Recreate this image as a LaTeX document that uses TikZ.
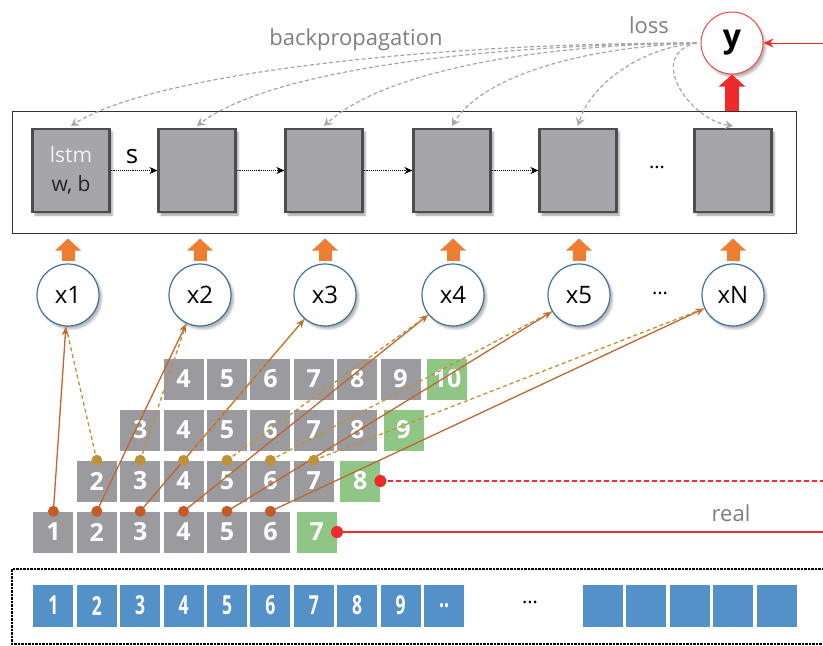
\documentclass[tikz,border=0pt]{standalone}
\usepackage{fontspec}
\setmainfont{Open Sans}
\usetikzlibrary{arrows.meta, shadows.blur}

\definecolor{boxgray}{HTML}{A6A5A9}
\definecolor{boxedge}{HTML}{4D4D4D}
\definecolor{framecol}{HTML}{3A3030}
\definecolor{cellgray}{HTML}{9B9B9F}
\definecolor{cellgreen}{HTML}{8FC585}
\definecolor{cellblue}{HTML}{5591C9}
\definecolor{feedorange}{HTML}{ED7D31}
\definecolor{linkbrown}{HTML}{C0662F}
\definecolor{dotbrown}{HTML}{C55A28}
\definecolor{linkgold}{HTML}{BF9236}
\definecolor{lossred}{HTML}{EE2A2A}
\definecolor{ringblue}{HTML}{41719C}
\definecolor{backgray}{HTML}{A6A6A6}
\definecolor{notegray}{HTML}{7F7F7F}

\tikzset{
  lstm/.style = {draw = boxedge, line width = 2.2pt, fill = boxgray,
    minimum width = 77pt, minimum height = 83pt, inner sep = 0pt,
    blur shadow = {shadow xshift = 2.5pt, shadow yshift = -3pt, shadow opacity = 40}},
  xin/.style = {circle, draw = ringblue, line width = 1.2pt, fill = white,
    minimum size = 62pt, inner sep = 0pt, font = \fontsize{24}{24}\selectfont,
    blur shadow = {shadow xshift = 2.5pt, shadow yshift = -3pt, shadow opacity = 30}},
  cell/.style = {fill = cellgray, minimum width = 40pt, minimum height = 41pt,
    inner sep = 0pt, text = white, font = \fontsize{25}{25}\selectfont\bfseries},
  newcell/.style = {cell, fill = cellgreen},
  seq/.style = {cell, fill = cellblue, minimum height = 42pt},
  feed/.style = {feedorange, line width = 13pt,
    -{Triangle[length = 12pt, width = 25pt]}},
  link/.style = {linkbrown, line width = 1.3pt,
    -{Stealth[length = 9pt, width = 7pt]}},
  lagged/.style = {linkgold, line width = 1.3pt, dash pattern = on 4pt off 3pt},
  backprop/.style = {backgray, line width = 1.2pt, dash pattern = on 4pt off 2.5pt,
    -{Stealth[length = 8pt, width = 9pt, inset = 3pt]}},
  carry/.style = {densely dotted, line width = .9pt,
    -{Stealth[length = 8pt, width = 7pt]}},
  note/.style = {text = notegray, font = \fontsize{22}{22}\selectfont}
}

\begin{document}
\begin{tikzpicture}[x = 1pt, y = -1pt]
  \useasboundingbox (0,0) rectangle (823,646);

  % lstm chain
  \node [draw = framecol, line width = 1pt, minimum width = 784pt,
    minimum height = 122pt, inner sep = 0pt] (frame) at (404,172) {};
  \node [lstm, align = center, font = \fontsize{21}{29}\selectfont] (l1) at (71,170.5)
    {\textcolor{white!95!black}{lstm}\\\textcolor{black!85}{w, b}};
  \node [lstm] (l2) at (197,170.5) {};
  \node [lstm] (l3) at (324,170.5) {};
  \node [lstm] (l4) at (452,170.5) {};
  \node [lstm] (l5) at (578,170.5) {};
  \node [lstm] (l6) at (733,170.5) {};
  \node [font = \fontsize{20}{20}\selectfont] (dotsl) at (657,167) {...};
  \foreach \k [evaluate = \k as \j using int(\k+1)] in {1,...,4}
    \draw [carry] (l\k) -- (l\j);
  \node [font = \fontsize{26}{26}\selectfont] (s) at (132,157) {s};

  % loss node and backpropagation
  \node [circle, draw = lossred!85, line width = 1pt, fill = white, minimum size = 62pt,
    inner sep = 0pt, font = \fontsize{32}{32}\selectfont\bfseries,
    blur shadow = {shadow xshift = 2.5pt, shadow yshift = -3pt, shadow opacity = 30}]
    (y) at (732,43) {y};
  \node [note] (loss) at (649,25) {loss};
  \node [note] (bp) at (356,40) {backpropagation};
  \coordinate (truth) at (823,43);
  \draw [lossred, line width = 1pt, -{Stealth[length = 10pt, width = 9pt]}] (truth) -- (y);
  \draw [lossred, line width = 14pt, -{Triangle[length = 12pt, width = 26pt]}]
    (y |- frame.north) -- (y.south);
  \coordinate (lossout) at ([xshift = -4pt]y.west);
  \draw [backprop] (lossout) .. controls (420,43) and (150,75) .. ([yshift = 2pt]l1.north);
  \draw [backprop] (lossout) .. controls (480,45) and (270,70) .. ([yshift = 2pt]l2.north);
  \draw [backprop] (lossout) .. controls (520,45) and (380,75) .. ([yshift = 2pt]l3.north);
  \draw [backprop] (lossout) .. controls (570,48) and (480,80) .. ([yshift = 2pt]l4.north);
  \draw [backprop] (lossout) .. controls (640,48) and (590,85) .. ([yshift = 2pt]l5.north);
  \draw [backprop] (lossout) .. controls (645,55) and (690,120) .. ([yshift = 2pt]l6.north);

  % inputs
  \foreach \k/\t/\x in {1/x1/68, 2/x2/200, 3/x3/325, 4/x4/453, 5/x5/579, 6/xN/733} {
    \node [xin] (x\k) at (\x,295) {\t};
    \draw [feed] ([yshift = 2pt]x\k.north) -- ([yshift = -5pt]x\k.north |- frame.south);
  }
  \node [font = \fontsize{20}{20}\selectfont] (dotsx) at (660,293) {...};

  % shifted windows
  \foreach \r in {1,...,4} {
    \pgfmathtruncatemacro\last{\r+5}
    \pgfmathtruncatemacro\new{\r+6}
    \foreach \k in {\r,...,\last}
      \node [cell] (c\r-\k) at (10+43.4*\k, 583-51*\r) {\k};
    \node [newcell] (g\r) at (13+43.4*\new, 583-51*\r) {\new};
  }
  \foreach \k in {1,...,6} {
    \pgfmathtruncatemacro\j{\k+1}
    \draw [link] (c1-\k.north) -- (x\k) coordinate [pos = 1] (tip\k);
    \draw [lagged] (c2-\j.north) -- (tip\k);
  }
  \foreach \k in {1,...,6}
    \fill [dotbrown] (c1-\k.north) circle (5.5pt);
  \foreach \k in {2,...,7}
    \fill [linkgold] (c2-\k.north) circle (5.5pt);

  % targets
  \coordinate (real8) at (823,481);
  \coordinate (real7) at (823,532);
  \draw [lossred, line width = 1.3pt, dash pattern = on 5pt off 3pt] (g2.east) -- (real8);
  \draw [lossred, line width = 1.3pt] (g1.east) -- (real7);
  \fill [lossred] (g2.east) circle (6pt);
  \fill [lossred] (g1.east) circle (6pt);
  \node [note] (real) at (731,513) {real};

  % full series
  \draw [densely dotted, line width = 2.5pt] (12,569) rectangle (840,644);
  \foreach \k in {1,...,9}
    \node [seq] (s\k) at (10+43.4*\k, 605.5) {\scalebox{.7}[1.05]{\k}};
  \node [seq] (s10) at (444,605.5) {\scalebox{.7}[1.05]{..}};
  \node [font = \fontsize{20}{20}\selectfont] (dotss) at (530,602) {...};
  \foreach \k in {1,...,5}
    \node [seq] (t\k) at (559.6+43.4*\k, 605.5) {};
\end{tikzpicture}
\end{document}
